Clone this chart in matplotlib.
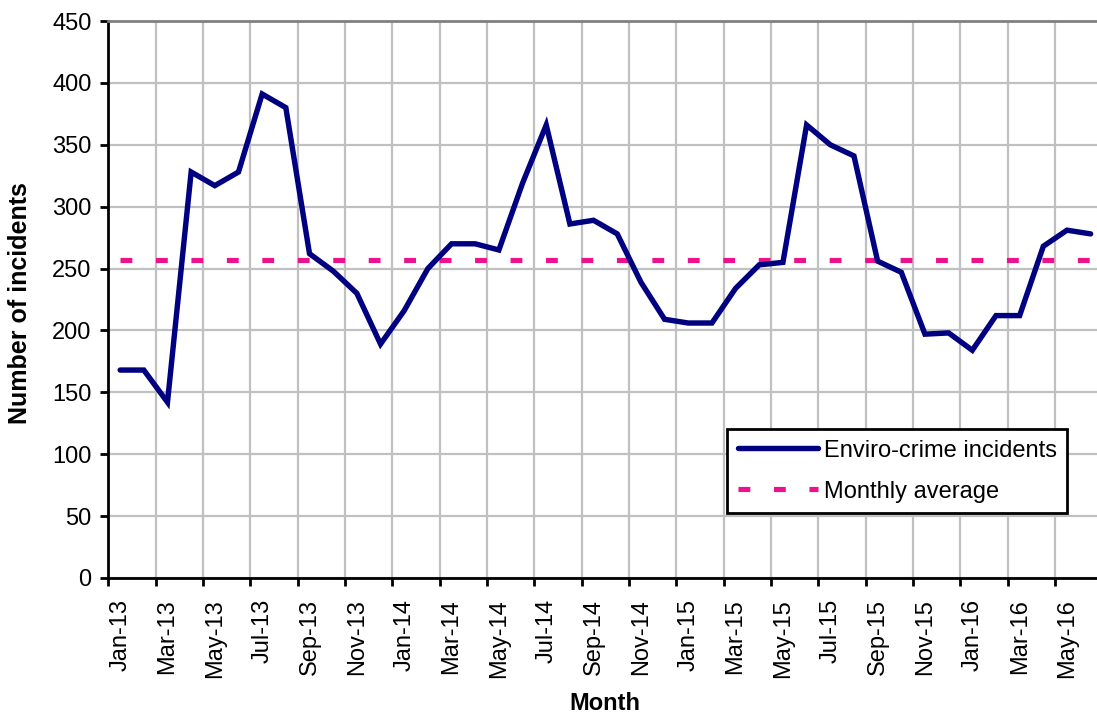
import numpy as np
import matplotlib
matplotlib.use("Agg")
import matplotlib.pyplot as plt

plt.rcParams['font.family'] = ['Liberation Sans', 'DejaVu Sans']

# Monthly enviro-crime incidents, Jan-13 .. Jun-16
months = ['Jan-13', 'Feb-13', 'Mar-13', 'Apr-13', 'May-13', 'Jun-13',
          'Jul-13', 'Aug-13', 'Sep-13', 'Oct-13', 'Nov-13', 'Dec-13',
          'Jan-14', 'Feb-14', 'Mar-14', 'Apr-14', 'May-14', 'Jun-14',
          'Jul-14', 'Aug-14', 'Sep-14', 'Oct-14', 'Nov-14', 'Dec-14',
          'Jan-15', 'Feb-15', 'Mar-15', 'Apr-15', 'May-15', 'Jun-15',
          'Jul-15', 'Aug-15', 'Sep-15', 'Oct-15', 'Nov-15', 'Dec-15',
          'Jan-16', 'Feb-16', 'Mar-16', 'Apr-16', 'May-16', 'Jun-16']
incidents = [168, 168, 142, 328, 317, 328,
             391, 380, 262, 248, 230, 189,
             216, 250, 270, 270, 265, 319,
             366, 286, 289, 278, 239, 209,
             206, 206, 234, 253, 255, 366,
             350, 341, 256, 247, 197, 198,
             184, 212, 212, 268, 281, 278]
monthly_avg = 257

x = np.arange(len(months))

fig = plt.figure(figsize=(10.97, 7.15), dpi=100)
ax = fig.add_axes([108.3 / 1097, 1 - 578 / 715, (1102.5 - 108.3) / 1097, 557 / 715])

ax.plot(x, incidents, color='#000080', lw=3.9, solid_joinstyle='miter',
        solid_capstyle='round', label='Enviro-crime incidents', zorder=3)
avg_line, = ax.plot(x, [monthly_avg] * len(x), color='#EC118C', lw=3.7,
                    label='Monthly average', zorder=2)
avg_line.set_dashes((2.3, 4.6))

ax.set_xlim(-0.5, len(x) - 0.5)
ax.set_ylim(0, 450)
ax.set_yticks(np.arange(0, 451, 50))

# labels at category centres, ticks/grid at category boundaries
ax.set_xticks(x[::2])
ax.set_xticklabels(months[::2], rotation=90)
ax.set_xticks(np.arange(-0.5, len(x), 2), minor=True)
ax.tick_params(axis='x', which='major', length=0, pad=15, labelsize=17)
ax.tick_params(axis='x', which='minor', length=6, width=2, direction='out')
ax.tick_params(axis='y', length=6, width=2, direction='out', pad=6, labelsize=17)

ax.grid(True, axis='x', which='minor', color='#C0C0C0', lw=1.6)
ax.grid(True, axis='y', which='major', color='#C0C0C0', lw=1.6)
ax.set_axisbelow(True)

for side in ['left', 'bottom']:
    ax.spines[side].set_linewidth(2)
    ax.spines[side].set_color('black')
ax.spines['top'].set_color('#808080')
ax.spines['top'].set_linewidth(2)
ax.spines['right'].set_visible(False)

fig.text(605 / 1097, 1 - 703 / 715, 'Month', ha='center', va='center',
         fontsize=17, fontweight='bold')
fig.text(20 / 1097, 1 - 303 / 715, 'Number of incidents', ha='center', va='center',
         rotation=90, fontsize=18, fontweight='bold')

leg = ax.legend(loc='upper left', bbox_to_anchor=(727 / 1097, 1 - 429 / 715),
                bbox_transform=fig.transFigure, fontsize=17, frameon=True,
                fancybox=False, shadow=False, handlelength=3.4, handletextpad=0.25,
                borderaxespad=0, borderpad=0.45, labelspacing=0.8)
leg.get_frame().set_edgecolor('black')
leg.get_frame().set_linewidth(2)
leg.get_frame().set_alpha(1)

fig.savefig('out.png', dpi=100)
